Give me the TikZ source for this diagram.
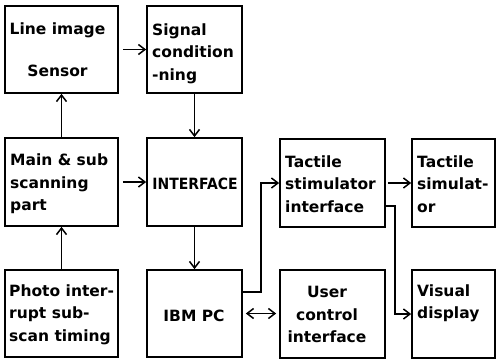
\documentclass[tikz,border=0pt]{standalone}
\usepackage{fontspec}
\setmainfont{DejaVu Sans}
\usetikzlibrary{arrows.meta}
\begin{document}
\begin{tikzpicture}[x=1pt,y=-1pt,
  box/.style={draw,line width=1.7pt,minimum width=#1,inner sep=0pt},
  box/.default=95pt,
  txt/.style={font=\fontsize{15.5}{22.5}\selectfont\bfseries,inner sep=0pt,align=left,anchor=west},
  ctxt/.style={font=\fontsize{15.5}{22.5}\selectfont\bfseries,inner sep=0pt,align=center},
  arr/.style={line width=1.4pt,-{Straight Barb[length=6.5pt,width=10pt,line width=1.5pt]}},
  darr/.style={line width=1.4pt,{Straight Barb[length=6.5pt,width=10pt,line width=1.5pt]}-{Straight Barb[length=6.5pt,width=10pt,line width=1.5pt]}}
]
\useasboundingbox (0,0) rectangle (497,362);
% boxes
\node[box=113pt,minimum height=87pt] (sensor) at (61.5,49.5) {};
\node[box=95pt,minimum height=87pt] (signal) at (194.5,49.5) {};
\node[box=113pt,minimum height=88pt] (main) at (61.5,182) {};
\node[box=95pt,minimum height=88pt] (intf) at (194.5,182) {};
\node[box=113pt,minimum height=87pt] (photo) at (61.5,313.5) {};
\node[box=95pt,minimum height=87pt] (ibm) at (194.5,313.5) {};
\node[box=105pt,minimum height=88pt] (stim) at (332.5,183) {};
\node[box=83pt,minimum height=88pt] (sim) at (453.5,183) {};
\node[box=105pt,minimum height=88pt] (user) at (332.5,314) {};
\node[box=83pt,minimum height=88pt] (visual) at (453.5,314) {};
% texts
\node[ctxt] (tsensor) at (57.5,49.5) {Line image\\[19pt]Sensor};
\node[txt] (tsignal) at (152,53.5) {Signal\\condition\\-ning};
\node[txt] (tmain) at (10,184) {Main \& sub\\scanning\\part};
\node[ctxt] (tintf) at (195,183.5) {\scalebox{0.9}[1]{INTERFACE}};
\node[txt] (tphoto) at (9,314.5) {Photo inter-\\rupt sub-\\scan timing};
\node[ctxt] (tibm) at (194,315.5) {IBM PC};
\node[txt] (tstim) at (285,184) {Tactile\\stimulator\\interface};
\node[txt] (tsim) at (417,184) {Tactile\\simulat-\\or};
\node[ctxt] (tuser) at (327,314.5) {User\\control\\interface};
\node[txt] (tvisual) at (417,303.5) {Visual\\display};
% connectors
\draw[arr,shorten <=4pt] (sensor) -- (signal);
\draw[arr] (signal) -- (intf);
\draw[arr] (main) -- (sensor);
\draw[arr,shorten <=4pt] (main) -- (intf);
\draw[arr] (photo) -- (main);
\draw[arr] (intf) -- (ibm);
\draw[arr] ([yshift=21.5pt]ibm.east) -- ++(18,0) |- (stim.west);
\draw[arr,shorten <=2pt] (stim) -- (sim);
\draw[arr] ([yshift=-23pt]stim.east) -- ++(9,0) |- (visual.west);
\draw[darr,shorten <=3pt,shorten >=3pt] (ibm.east) -- (ibm.east -| user.west);
\end{tikzpicture}
\end{document}
